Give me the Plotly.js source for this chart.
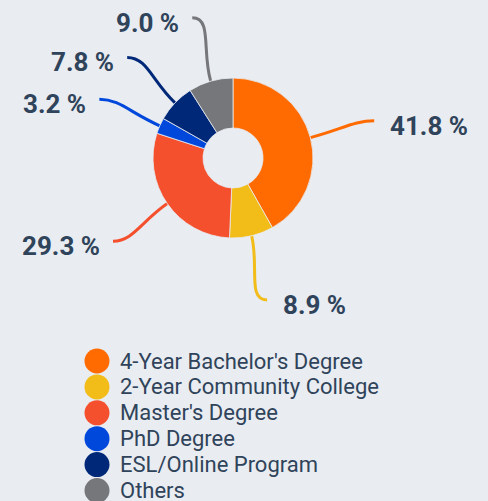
<!DOCTYPE html>
<html>
<head>
<meta charset="utf-8">
<script src="https://cdn.plot.ly/plotly-3.0.1.min.js"></script>
<style>
  html, body { margin: 0; padding: 0; background: #e9ecf1; }
  #chart { width: 488px; height: 501px; }
</style>
</head>
<body>
<div id="chart"></div>
<script>
// data
var categories = ["4-Year Bachelor's Degree", '2-Year Community College', "Master's Degree", 'PhD Degree', 'ESL/Online Program', 'Others'];
var shares = [41.8, 8.9, 29.3, 3.2, 7.8, 9.0];
var colors = ['#ff6b00', '#f2bc19', '#f5502e', '#0048dc', '#002878', '#76777b'];

// page geometry (pixels)
var W = 488, H = 501;
var cx = 233, cy = 158, rOut = 80, rEnd = 146;
var textColor = '#2f435a';
var bg = '#e9ecf1';

var total = shares.reduce(function(a, b) { return a + b; }, 0);

var shapes = [];
var annotations = [];
var acc = 0;
for (let i = 0; i < shares.length; i++) 
{
    let mid = (acc + shares[i] / 2) / total * 2 * Math.PI;
    acc += shares[i];
    let dx = Math.sin(mid), dy = -Math.cos(mid);
    let x0 = cx + rOut * dx, y0 = cy + rOut * dy;
    let x1 = cx + (rOut + 32) * dx, y1 = cy + (rOut + 32) * dy;
    let x3 = cx + rEnd * dx, y3 = cy + rEnd * dy;
    let right = x3 > cx;
    let x2 = x3 + (right ? -20 : 20), y2 = y3;
    shapes.push({
        type: 'path',
        xref: 'x', yref: 'y',
        path: 'M ' + x0 + ' ' + y0 + ' C ' + x1 + ' ' + y1 + ', ' + x2 + ' ' + y2 + ', ' + x3 + ' ' + y3,
        line: { color: colors[i], width: 3 },
        layer: 'below'
    });
    annotations.push({
        xref: 'x', yref: 'y',
        x: right ? x3 + 14 : x3 - 11,
        y: y3 + 5,
        xanchor: right ? 'left' : 'right',
        yanchor: 'middle',
        showarrow: false,
        text: shares[i].toFixed(1) + ' %',
        font: { family: 'Roboto, sans-serif', size: 26, color: textColor, weight: 'bold' }
    });
}

// legend rows
var legX = [], legY = [];
for (let i = 0; i < categories.length; i++) 
{
    legX.push(97);
    legY.push(361 + 25.9 * i);
    annotations.push({
        xref: 'x', yref: 'y',
        x: 118, y: 361 + 25.9 * i,
        xanchor: 'left', yanchor: 'middle',
        showarrow: false,
        text: categories[i],
        font: { family: 'Roboto, sans-serif', size: 22, color: textColor }
    });
}

var pie = {
    type: 'pie',
    values: shares,
    labels: categories,
    marker: { colors: colors, line: { color: bg, width: 0.8 } },
    hole: 0.375,
    sort: false,
    direction: 'clockwise',
    rotation: 0,
    textinfo: 'none',
    hoverinfo: 'label+percent',
    showlegend: false,
    domain: {
        x: [(cx - rOut) / W, (cx + rOut) / W],
        y: [1 - (cy + rOut) / H, 1 - (cy - rOut) / H]
    }
};

var legend = {
    type: 'scatter',
    mode: 'markers',
    x: legX,
    y: legY,
    text: categories,
    hoverinfo: 'text',
    marker: { color: colors, size: 25 },
    showlegend: false
};

var layout = {
    width: W,
    height: H,
    margin: { l: 0, r: 0, t: 0, b: 0 },
    paper_bgcolor: bg,
    plot_bgcolor: bg,
    showlegend: false,
    xaxis: { range: [0, W], visible: false, fixedrange: true },
    yaxis: { range: [H, 0], visible: false, fixedrange: true },
    shapes: shapes,
    annotations: annotations
};

Plotly.newPlot('chart', [legend, pie], layout, { displayModeBar: false, staticPlot: true });
</script>
</body>
</html>
